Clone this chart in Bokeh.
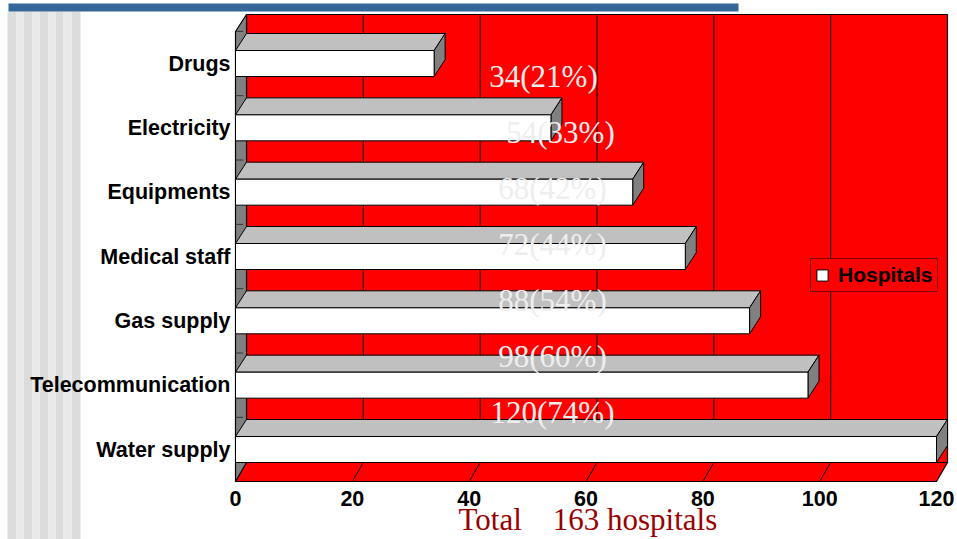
import numpy as np
from bokeh.plotting import figure
from bokeh.models import Range1d, FixedTicker, Legend, LegendItem, LinearAxis
from bokeh.core.properties import value
from bokeh.embed import file_html
from bokeh.resources import INLINE

# ---- data (bottom to top) ----
categories = ["Water supply", "Telecommunication", "Gas supply", "Medical staff",
              "Equipments", "Electricity", "Drugs"]
bar_values = [120, 98, 88, 77, 68, 54, 34]
label_counts = [120, 98, 88, 72, 68, 54, 34]
label_percents = [74, 60, 54, 44, 42, 33, 21]
x_ticks = [0, 20, 40, 60, 80, 100, 120]
series_name = "Hospitals"
total_text = "Total\u00a0\u00a0\u00a0 163 hospitals"

# ---- page-pixel helpers for the layout (decoration only) ----
W, H = 957, 539
SX = (936 - 235) / 120.0   # px per unit on x
SY = 64.33                 # px per category step
def dx(px):
    return (px - 235) / SX
def dy(py):
    return (449 - py) / SY

DX = 11 / SX               # depth offset (x)
DY = 17 / SY               # depth offset (y)
H2 = 13 / SY               # half height of the bar front face
wall_top = dy(14)
wall_bottom = dy(462)
floor_front = dy(481)
xmax = x_ticks[-1]
label_centers_px = [552, 552, 552, 552, 552, 560, 543]   # manual label placement

p = figure(width=W, height=H,
           x_range=Range1d(dx(0), dx(W)), y_range=Range1d(dy(H), dy(0)),
           output_backend="svg", toolbar_location=None,
           min_border=0, x_axis_location=None, y_axis_location=None)
p.grid.visible = False
p.outline_line_color = None
p.background_fill_color = "white"
p.border_fill_color = "white"

# decorative stripes on the left and blue bar on top
dark = [(7, 16), (23, 32), (39, 48), (55, 63), (71, 80)]
light = [(16, 23), (32, 39), (48, 55), (63, 71)]
p.quad(left=[dx(a) for a, b in dark], right=[dx(b) for a, b in dark],
       top=[dy(11)] * len(dark), bottom=[dy(H + 5)] * len(dark),
       fill_color="#DCDCDC", line_color=None)
p.quad(left=[dx(a) for a, b in light], right=[dx(b) for a, b in light],
       top=[dy(11)] * len(light), bottom=[dy(H + 5)] * len(light),
       fill_color="#E9E9E9", line_color=None)
p.quad(left=[dx(8)], right=[dx(738)], top=[dy(3)], bottom=[dy(11)],
       fill_color="#336699", line_color=None)

# back wall
p.quad(left=[DX], right=[xmax + DX], top=[wall_top], bottom=[wall_bottom],
       fill_color="#FF0000", line_color="black", line_width=1.2)
grid_x = [t + DX for t in x_ticks[1:-1]]
p.segment(x0=grid_x, y0=[wall_bottom] * len(grid_x), x1=grid_x, y1=[wall_top] * len(grid_x),
          line_color="black", line_width=1)

# floor
p.patch(x=[0, xmax, xmax + DX, DX], y=[floor_front, floor_front, wall_bottom, wall_bottom],
        fill_color="#FF0000", line_color="black", line_width=1.2)
p.segment(x0=x_ticks[1:-1], y0=[floor_front] * 5,
          x1=[t + DX for t in x_ticks[1:-1]], y1=[wall_bottom] * 5,
          line_color="black", line_width=1)

# left wall
p.patch(x=[0, 0, DX, DX], y=[floor_front, wall_top - DY, wall_top, wall_bottom],
        fill_color="#808080", line_color="black", line_width=1.2)
sep_y = [k + 0.5 for k in range(len(categories))]
p.segment(x0=[0] * len(sep_y), y0=sep_y, x1=[DX * 0.7] * len(sep_y), y1=sep_y,
          line_color="#333333", line_width=1)

# bars
ys = list(range(len(categories)))
tops_x, tops_y, sides_x, sides_y = [], [], [], []
for i, v in zip(ys, bar_values):
    tops_x.append([0, v, v + DX, DX])
    tops_y.append([i + H2, i + H2, i + H2 + DY, i + H2 + DY])
    sides_x.append([v, v, v + DX, v + DX])
    sides_y.append([i - H2, i + H2, i + H2 + DY, i - H2 + DY])
p.patches(xs=tops_x, ys=tops_y, fill_color="#C0C0C0", line_color="black", line_width=1)
p.patches(xs=sides_x, ys=sides_y, fill_color="#808080", line_color="black", line_width=1)
front = p.quad(left=[0] * len(ys), right=bar_values,
               bottom=[i - H2 for i in ys], top=[i + H2 for i in ys],
               fill_color="white", line_color="black", line_width=1)

# value labels
label_rows = np.linspace(0.575, 5.8, len(categories))
p.text(x=[dx(c) for c in label_centers_px], y=label_rows,
       text=[f"{c}({q}%)" for c, q in zip(label_counts, label_percents)],
       text_font=value("Liberation Serif"), text_font_size="31px",
       text_color="#EEEEEE", text_align="center", text_baseline="middle")

# category labels
p.text(x=[dx(230)] * len(ys), y=ys, text=categories,
       text_font=value("Liberation Sans"), text_font_style="bold", text_font_size="21.5px",
       text_color="black", text_align="right", text_baseline="middle")

# legend
legend = Legend(items=[LegendItem(label=series_name, renderers=[front])],
                location=(810, H - 292), orientation="vertical",
                background_fill_color="#FF0000", background_fill_alpha=1,
                border_line_color="black", border_line_width=1,
                label_text_font="Liberation Sans", label_text_font_style="bold",
                label_text_font_size="21px", label_text_color="black",
                glyph_width=14, glyph_height=14, label_standoff=9,
                label_height=18, padding=4, spacing=0, margin=0)
p.add_layout(legend)

# x axis drawn at the front edge of the floor
ax = LinearAxis(fixed_location=floor_front, ticker=FixedTicker(ticks=x_ticks))
ax.axis_line_color = None
ax.major_tick_line_color = None
ax.minor_tick_line_color = None
ax.major_tick_out = 0
ax.major_tick_in = 0
ax.major_label_standoff = 9
ax.major_label_text_font = "Liberation Sans"
ax.major_label_text_font_style = "bold"
ax.major_label_text_font_size = "21.5px"
ax.major_label_text_color = "black"
p.add_layout(ax, "below")

# bottom caption
p.text(x=[dx(458)], y=[dy(519)], text=[total_text],
       text_font=value("Liberation Serif"), text_font_size="31px",
       text_color="#990000", text_align="left", text_baseline="middle")

open("out.html", "w").write(file_html(p, INLINE))
